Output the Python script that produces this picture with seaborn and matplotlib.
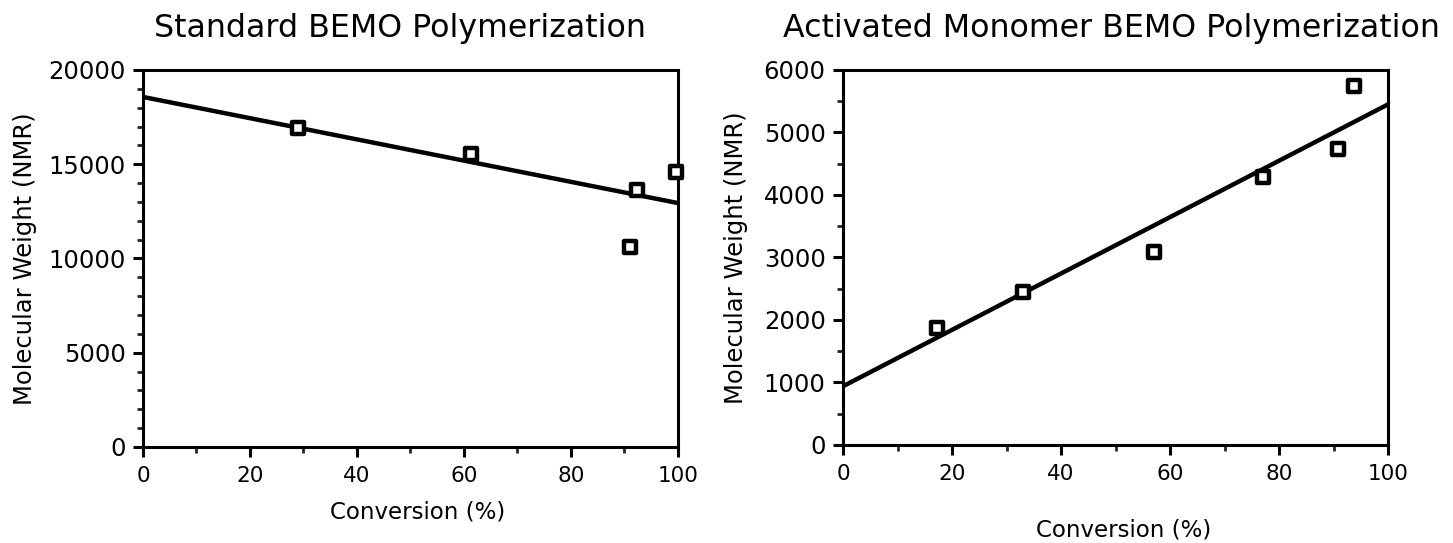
import matplotlib
matplotlib.use("Agg")
import matplotlib.pyplot as plt
from matplotlib.ticker import MultipleLocator
import seaborn as sns
import pandas as pd

# Standard BEMO polymerization
std_conversion = [29.0, 61.3, 92.3, 91.0, 99.6]
std_mw = [16920, 15540, 13630, 10610, 14590]
std_fit_x = [0, 100]
std_fit_y = [18570, 12940]

# Activated monomer BEMO polymerization
am_conversion = [17.2, 33.0, 57.1, 77.1, 90.8, 93.8]
am_mw = [1870, 2450, 3090, 4290, 4740, 5740]
am_fit_x = [0, 100]
am_fit_y = [940, 5450]

titles = ["Standard BEMO Polymerization", "Activated Monomer BEMO Polymerization"]
xlabel = "Conversion (%)"
ylabel = "Molecular Weight (NMR)"

sns.set_style("ticks")
plt.rcParams["font.family"] = ["DejaVu Sans"]
plt.rcParams["text.color"] = "black"
plt.rcParams["axes.labelcolor"] = "black"

fig = plt.figure(figsize=(14.53, 5.43), dpi=100)
ax1 = fig.add_axes([0.0984, 0.1768, 0.3682, 0.6943])
ax2 = fig.add_axes([0.5802, 0.1805, 0.3751, 0.6906])


def draw(ax, cx, cy, fx, fy, ymax, ymajor, yminor, xlab_pos, ylab_pos):
    pts = pd.DataFrame({"x": cx, "y": cy})
    fit = pd.DataFrame({"x": fx, "y": fy})
    sns.lineplot(data=fit, x="x", y="y", ax=ax, color="black", linewidth=3.2)
    sns.scatterplot(data=pts, x="x", y="y", ax=ax, marker="s", s=80,
                    facecolor="white", edgecolor="black", linewidth=3.2,
                    zorder=5, clip_on=False)
    ax.set_xlim(0, 100)
    ax.set_ylim(0, ymax)
    ax.xaxis.set_major_locator(MultipleLocator(20))
    ax.xaxis.set_minor_locator(MultipleLocator(10))
    ax.yaxis.set_major_locator(MultipleLocator(ymajor))
    ax.yaxis.set_minor_locator(MultipleLocator(yminor))
    for s in ax.spines.values():
        s.set_visible(True)
        s.set_linewidth(2.2)
        s.set_color("black")
    ax.tick_params(which="major", direction="out", length=7.5, width=2.2,
                   colors="black")
    ax.tick_params(which="minor", direction="out", length=4, width=2.0)
    ax.tick_params(axis="x", which="major", labelsize=15.5, pad=6)
    ax.tick_params(axis="y", which="major", labelsize=17.5, pad=5)
    ax.set_xlabel(xlabel, fontsize=16.5)
    ax.set_ylabel(ylabel, fontsize=17.5)
    ax.xaxis.set_label_coords(*xlab_pos)
    ax.yaxis.set_label_coords(*ylab_pos)


draw(ax1, std_conversion, std_mw, std_fit_x, std_fit_y, 20000, 5000, 1000,
     (0.514, -0.143), (-0.198, 0.5))
draw(ax2, am_conversion, am_mw, am_fit_x, am_fit_y, 6000, 1000, 500,
     (0.515, -0.195), (-0.174, 0.5))

fig.text(0.2753, 0.932, titles[0], ha="center", va="baseline", fontsize=22.8)
fig.text(0.7646, 0.932, titles[1], ha="center", va="baseline", fontsize=22.8)

fig.savefig("out.png", dpi=100)
